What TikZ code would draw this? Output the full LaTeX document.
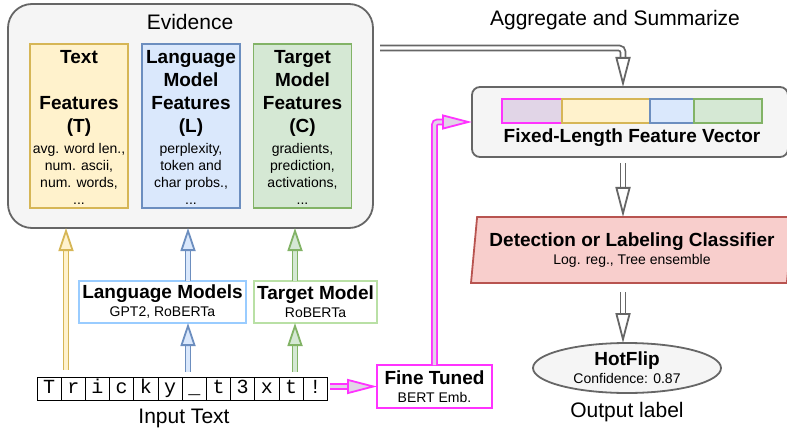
\documentclass[tikz,border=0pt]{standalone}
\usepackage{fontspec}
\setmainfont{Liberation Sans}
\setmonofont{Liberation Mono}
\usetikzlibrary{arrows.meta}
\usetikzlibrary{shapes.geometric}

\definecolor{grayfill}{HTML}{F5F5F5}
\definecolor{grayline}{HTML}{666666}
\definecolor{yelfill}{HTML}{FFF2CC}
\definecolor{yelline}{HTML}{D6B656}
\definecolor{bluefill}{HTML}{DAE8FC}
\definecolor{blueline}{HTML}{6C8EBF}
\definecolor{greenfill}{HTML}{D5E8D4}
\definecolor{greenline}{HTML}{82B366}
\definecolor{pinkfill}{HTML}{E1D5E7}
\definecolor{pinkline}{HTML}{FF33FF}
\definecolor{redfill}{HTML}{F8CECC}
\definecolor{redline}{HTML}{B85450}
\definecolor{lmline}{HTML}{99CCFF}
\definecolor{tmline}{HTML}{B9E0A5}

\newcommand{\bigsize}{\fontsize{21}{25}\selectfont}
\newcommand{\headsize}{\fontsize{19}{23}\selectfont\bfseries}
\newcommand{\smallsize}{\fontsize{14}{17}\selectfont}
\newcommand{\twoline}[2]{{\headsize #1}\\[-2pt]{#2}}

\begin{document}
\begin{tikzpicture}[x=1pt, y=-1pt,
    box/.style={inner sep=0pt, outer sep=0pt},
    evibox/.style={box, draw=grayline, fill=grayfill, line width=1.8pt, rounded corners=24pt},
    featbox/.style={box, line width=1.8pt, minimum width=98, minimum height=164},
    feattitle/.style={align=center, font=\headsize},
    featbody/.style={align=center, font=\smallsize},
    plainbox/.style={box, fill=white, line width=1.4pt, align=center, font=\fontsize{14}{20}\selectfont},
    cellbox/.style={box, draw=black, line width=0.8pt, minimum width=24.2, minimum height=23,
      text height=12pt, text depth=3pt, font=\ttfamily\fontsize{20}{20}\selectfont},
    bigtext/.style={font=\bigsize},
    fatarrow/.style 2 args={draw=#1, line width=1.8pt, double=#2, double distance=3.2pt,
      -{Triangle[length=23pt, width=15pt, line width=1.8pt, fill=#2]}},
    longhead/.style={-{Triangle[length=30pt, width=15pt, line width=1.8pt, fill=#1]}}
  ]
  \useasboundingbox (0,0) rectangle (787,433);

  % evidence box and its three feature groups
  \node[evibox, minimum width=365, minimum height=224] (evidence) at (190.5,116) {};
  \node[bigtext] (evilabel) at (190,22) {Evidence};

  \node[featbox, draw=yelline, fill=yelfill] (ftext) at (79,126) {};
  \node[feattitle] (ftexttitle) at (79,93) {Text\\ \\Features\\(T)};
  \node[featbody] (ftextbody) at (79,174) {avg. word len.,\\num. ascii,\\num. words,\\...};

  \node[featbox, draw=blueline, fill=bluefill] (flang) at (191,126) {};
  \node[feattitle] (flangtitle) at (191,93) {Language\\Model\\Features\\(L)};
  \node[featbody] (flangbody) at (191,174) {perplexity,\\token and\\char probs.,\\...};

  \node[featbox, draw=greenline, fill=greenfill] (ftarget) at (302.5,126) {};
  \node[feattitle] (ftargettitle) at (302.5,93) {Target\\Model\\Features\\(C)};
  \node[featbody] (ftargetbody) at (302.5,174) {gradients,\\prediction,\\activations,\\...};

  % models
  \node[plainbox, draw=lmline, minimum width=167, minimum height=42] (lmodels) at (162.5,302)
    {\twoline{Language Models}{GPT2, RoBERTa}};
  \node[plainbox, draw=tmline, minimum width=123, minimum height=42] (tmodel) at (315.5,302)
    {\twoline{Target Model}{RoBERTa}};

  % input text
  \foreach \ch [count=\i] in {T,r,i,c,k,y,\_,t,3,x,t,!}
    \node[cellbox] (cell\i) at ({37+24.2*(\i-0.5)},388.5) {\ch};
  \node[bigtext] (inputlabel) at (184,418) {Input Text};

  \node[plainbox, draw=pinkline, line width=1.8pt, minimum width=115, minimum height=43] (finetuned)
    at (434.5,386.5) {\twoline{Fine Tuned}{BERT Emb.}};

  % right column
  \node[bigtext] (agglabel) at (615,20) {Aggregate and Summarize};
  \node[box, draw=grayline, fill=grayfill, line width=1.8pt, rounded corners=8pt,
    minimum width=316, minimum height=70] (fixed) at (630,122) {};
  \foreach \a/\b/\fc/\dc in {502/562/pinkfill/pinkline, 562/650/yelfill/yelline,
      650/694/bluefill/blueline, 694/762/greenfill/greenline}
    \draw[fill=\fc, draw=\dc, line width=1.8pt] (\a,99) rectangle (\b,123);
  \node[font=\headsize] (fixedlabel) at (632,138) {Fixed-Length Feature Vector};

  \node[box, trapezium, trapezium left angle=80, trapezium right angle=100, trapezium stretches body,
    draw=redline, fill=redfill, line width=1.8pt, minimum width=322, minimum height=66,
    align=center, font=\fontsize{14}{20}\selectfont] (classifier) at (632,250)
    {\twoline{Detection or Labeling Classifier}{Log. reg., Tree ensemble}};

  \node[box, ellipse, draw=grayline, fill=grayfill, line width=1.8pt, minimum width=188, minimum height=50,
    align=center, font=\fontsize{14}{20}\selectfont] (hotflip) at (627,368)
    {\twoline{HotFlip}{Confidence: 0.87}};
  \node[bigtext] (outlabel) at (627,412) {Output label};

  % arrows
  \coordinate (ytail) at (66,370);
  \coordinate (btail) at (188,372);
  \coordinate (gtail) at (295,372);
  \coordinate (spine) at (623,0);
  \coordinate (aggstart) at (380,48);

  \draw[fatarrow={yelline}{yelfill}] (ytail) -- (ytail |- evidence.south);
  \draw[fatarrow={blueline}{bluefill}] (btail) -- (btail |- lmodels.south);
  \draw[fatarrow={blueline}{bluefill}] (lmodels.north -| btail) -- (btail |- evidence.south);
  \draw[fatarrow={greenline}{greenfill}] (gtail) -- (gtail |- tmodel.south);
  \draw[fatarrow={greenline}{greenfill}] (tmodel.north -| gtail) -- (gtail |- evidence.south);

  \draw[fatarrow={pinkline}{pinkfill}, longhead=pinkfill, shorten <=3pt]
    (finetuned.west -| cell12.east) -- (finetuned.west);
  \draw[fatarrow={pinkline}{pinkfill}, longhead=pinkfill, rounded corners=3pt]
    (finetuned.north) |- (fixed.west);

  \draw[fatarrow={grayline}{white}, longhead=white, rounded corners=4pt]
    (aggstart) -| (fixed.north -| spine);
  \draw[fatarrow={grayline}{white}, longhead=white, shorten <=6pt]
    (fixed.south -| spine) -- (classifier.north -| spine);
  \draw[fatarrow={grayline}{white}, longhead=white, shorten <=9pt]
    (classifier.south -| spine) -- (hotflip.north -| spine);
\end{tikzpicture}
\end{document}
